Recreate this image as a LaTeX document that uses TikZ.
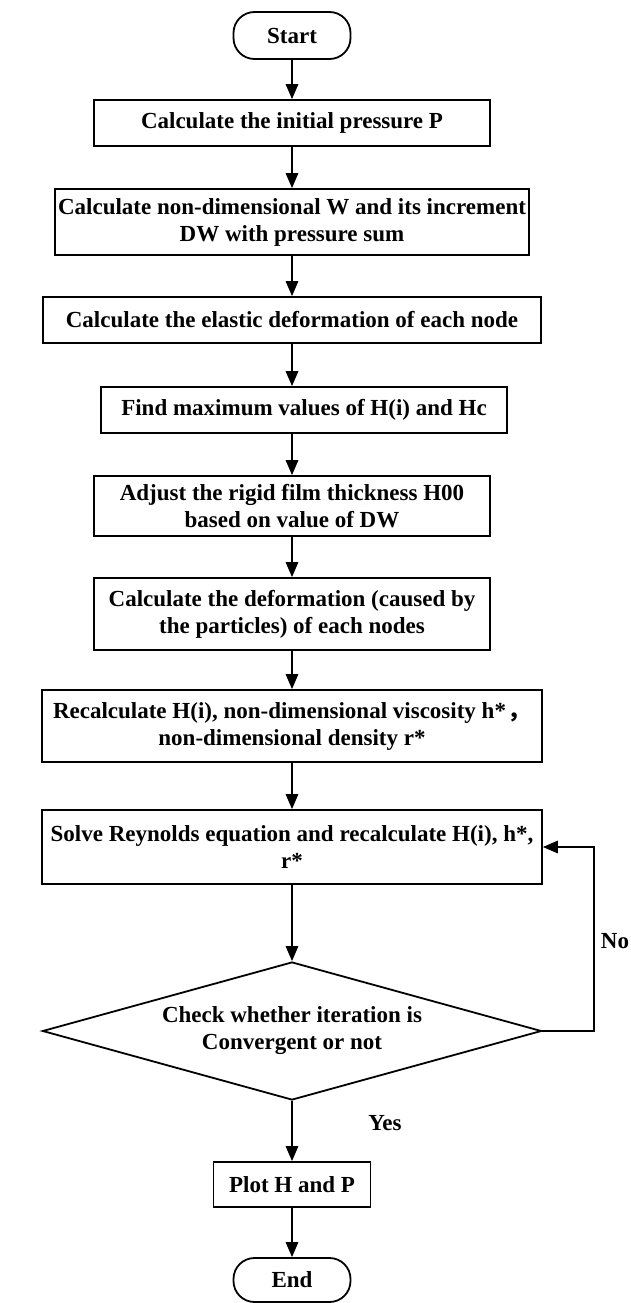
\documentclass[tikz,border=0pt]{standalone}
\usepackage{fontspec}
\setmainfont{Liberation Serif}
\newfontfamily\cjk{Noto Sans CJK SC}
\usetikzlibrary{arrows.meta,shapes.geometric}
\begin{document}
\begin{tikzpicture}[x=1pt,y=-1pt,
  font=\bfseries\fontsize{23}{27}\selectfont,
  box/.style={draw, rectangle, align=center, inner sep=0pt, line width=1.8pt},
  term/.style={draw, rectangle, rounded corners=21pt, align=center, inner sep=0pt, line width=1.8pt},
  decision/.style={draw, diamond, aspect=3.6, align=center, inner sep=0pt, line width=1.8pt},
  arr/.style={-{Triangle[length=15pt,width=12.5pt]}, line width=1.6pt},
  lbl/.style={inner sep=0pt}]
\useasboundingbox (0,0) rectangle (630,1303);
\node[term, minimum width=117pt, minimum height=47pt] (start) at (292,35.5) {Start};
\node[box, minimum width=396pt, minimum height=46pt] (b1) at (292,123) {Calculate the initial pressure P};
\node[box, minimum width=474pt, minimum height=66pt] (b2) at (292,222) {Calculate non-dimensional W and its increment\\DW with pressure sum};
\node[box, minimum width=498pt, minimum height=46pt] (b3) at (292,320) {Calculate the elastic deformation of each node};
\node[box, minimum width=406pt, minimum height=46pt] (b4) at (304,410) {Find maximum values of H(i) and Hc};
\node[box, minimum width=396pt, minimum height=60pt] (b5) at (292,506) {Adjust the rigid film thickness H00\\based on value of DW};
\node[box, minimum width=396pt, minimum height=72pt] (b6) at (292,614) {Calculate the deformation (caused by\\the particles) of each nodes};
\node[box, minimum width=500pt, minimum height=72pt] (b7) at (292,726) {Recalculate H(i), non-dimensional viscosity h*\kern2pt{\cjk ，}\\non-dimensional density r*};
\node[box, minimum width=500pt, minimum height=74pt] (b8) at (292,847) {Solve Reynolds equation and recalculate H(i), h*,\\r*};
\node[decision, minimum width=499pt, minimum height=138pt] (dec) at (292,1031) {Check whether iteration is\\Convergent or not};
\node[box, minimum width=157pt, minimum height=45pt] (plot) at (292,1184.5) {Plot H and P};
\node[term, minimum width=117pt, minimum height=44pt] (end) at (292,1280) {End};
\coordinate (fb) at (594,1031);
\node[lbl] (no) at (615,941) {No};
\node[lbl] (yes) at (385,1123) {Yes};
\draw[arr] (start) -- (b1);
\draw[arr] (b1) -- (b2);
\draw[arr] (b2) -- (b3);
\draw[arr] (b3.south) -- (b3.south |- b4.north);
\draw[arr] (b5.north |- b4.south) -- (b5.north);
\draw[arr] (b5) -- (b6);
\draw[arr] (b6) -- (b7);
\draw[arr] (b7) -- (b8);
\draw[arr] (b8) -- (dec);
\draw[arr] (dec) -- (plot);
\draw[arr] (plot) -- (end);
\draw[arr] (dec.east) -- (fb) |- (b8.east);
\end{tikzpicture}
\end{document}
